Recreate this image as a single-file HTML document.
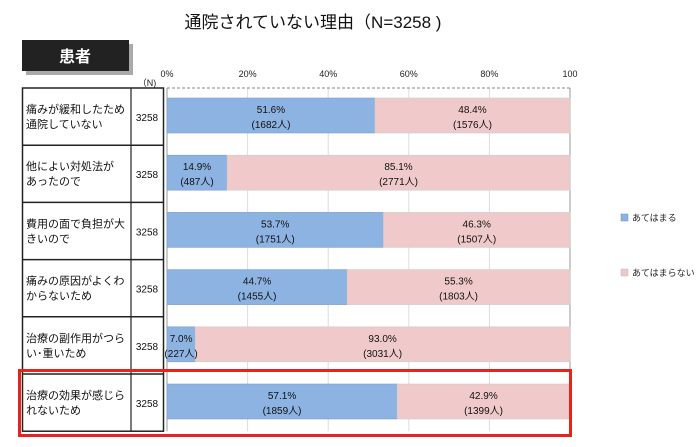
<!DOCTYPE html>
<html><head><meta charset="utf-8"><style>
body{margin:0;background:#fff;width:700px;height:442px;overflow:hidden;font-family:"Liberation Sans","Noto Sans CJK JP",sans-serif;}
</style></head><body>
<svg width="700" height="442" xmlns="http://www.w3.org/2000/svg" font-family="Liberation Sans, Noto Sans CJK JP, sans-serif">
<text x="313" y="28" font-size="17" text-anchor="middle" fill="#111">通院されていない理由（N=3258 )</text>
<rect x="26" y="44" width="107" height="31" fill="#aaa"/>
<rect x="22" y="40" width="107" height="31" fill="#222"/>
<text x="75" y="62" font-size="16" font-weight="bold" fill="#fff" text-anchor="middle">患者</text>
<text x="147" y="86" font-size="9" fill="#222" text-anchor="middle">（N)</text>
<g id="axis"></g>
<g id="rows"></g>
<g id="bars"></g>
<rect x="19.5" y="370.5" width="551" height="65" fill="none" stroke="#e8231b" stroke-width="3"/>
<rect x="621" y="214" width="7" height="7" fill="#8db3e2" stroke="#6a8fbf" stroke-width="0.5"/>
<text x="632" y="221" font-size="9" fill="#222">あてはまる</text>
<rect x="621" y="269" width="7" height="7" fill="#f0c8c8" stroke="#bbb" stroke-width="0.5"/>
<text x="632" y="276" font-size="9" fill="#222">あてはまらない</text>
</svg>
<script>
const labels1=["痛みが緩和したため","他によい対処法が","費用の面で負担が大","痛みの原因がよくわ","治療の副作用がつら","治療の効果が感じら"];
const labels2=["通院していない","あったので","きいので","からないため","い･重いため","れないため"];
const nValues=[3258,3258,3258,3258,3258,3258];
const yesPct=[51.6,14.9,53.7,44.7,7.0,57.1];
const noPct=[48.4,85.1,46.3,55.3,93.0,42.9];
const yesCount=[1682,487,1751,1455,227,1859];
const noCount=[1576,2771,1507,1803,3031,1399];
const ticks=[0,20,40,60,80,100];
const tickLabels=["0%","20%","40%","60%","80%","100"];
const NS="http://www.w3.org/2000/svg";
const x=v=>167+v*4.03;
const top0=88,pitch=57.2,bottom=top0+pitch*labels1.length;
const rowTop=i=>top0+i*pitch;
function mk(t,a,p,txt){const e=document.createElementNS(NS,t);for(const k in a)e.setAttribute(k,a[k]);if(txt!==undefined)e.textContent=txt;document.getElementById(p).appendChild(e);return e;}
const ax="axis";
ticks.forEach((t,i)=>{
 const l=mk("line",{x1:x(t),x2:x(t),y1:top0,y2:bottom,stroke:t==0||t==100?"#999":"#ddd","stroke-width":1},ax);
 
 
 const tx=mk("text",{x:x(t),y:77,"font-size":9,"text-anchor":"middle",fill:"#222"},ax,tickLabels[i]);
 
 
});
const tl=mk("line",{x1:x(0),x2:x(100),y1:top0,y2:top0,stroke:"#888","stroke-dasharray":"3,2"},ax);


const tb=mk("rect",{x:22.5,y:top0,width:141,height:bottom-top0,fill:"none",stroke:"#222","stroke-width":1.5},"rows");


const cl=mk("line",{x1:131,x2:131,y1:top0,y2:bottom,stroke:"#222","stroke-width":1.2},"rows");


labels1.forEach((lb,i)=>{
 const t=rowTop(i);
 if(i>0){const l=mk("line",{x1:22,x2:164,y1:t,y2:t,stroke:"#222","stroke-width":1.5},"rows");
 
 }
 const a=mk("text",{x:26,y:t+25,"font-size":11,fill:"#111"},"rows",lb);
 
 
 const b=mk("text",{x:26,y:t+40,"font-size":11,fill:"#111"},"rows",labels2[i]);
 
 
 const n=mk("text",{x:147,y:t+33,"font-size":10,fill:"#111","text-anchor":"middle"},"rows",nValues[i]);
 
 
 const by=t+10,bh=35;
 const r1=mk("rect",{x:x(0),y:by,width:x(yesPct[i])-x(0),height:bh,fill:"#8db3e2",stroke:"#7d9fcc","stroke-width":0.6},"bars");
 
 
 const r2=mk("rect",{x:x(yesPct[i]),y:by,width:x(100)-x(yesPct[i]),height:bh,fill:"#f0caca",stroke:"#ccc","stroke-width":0.6},"bars");
 
 
 const cx1=(x(0)+x(yesPct[i]))/2,cx2=(x(yesPct[i])+x(100))/2;
 const v1=mk("text",{x:cx1,y:by+15,"font-size":10,"text-anchor":"middle",fill:"#111"},"bars",yesPct[i].toFixed(1)+"%");
 
 
 const c1=mk("text",{x:cx1,y:by+30,"font-size":10,"text-anchor":"middle",fill:"#111"},"bars","("+yesCount[i]+"人)");
 
 
 const v2=mk("text",{x:cx2,y:by+15,"font-size":10,"text-anchor":"middle",fill:"#111"},"bars",noPct[i].toFixed(1)+"%");
 
 
 const c2=mk("text",{x:cx2,y:by+30,"font-size":10,"text-anchor":"middle",fill:"#111"},"bars","("+noCount[i]+"人)");
 
 
});
</script>
</body></html>
